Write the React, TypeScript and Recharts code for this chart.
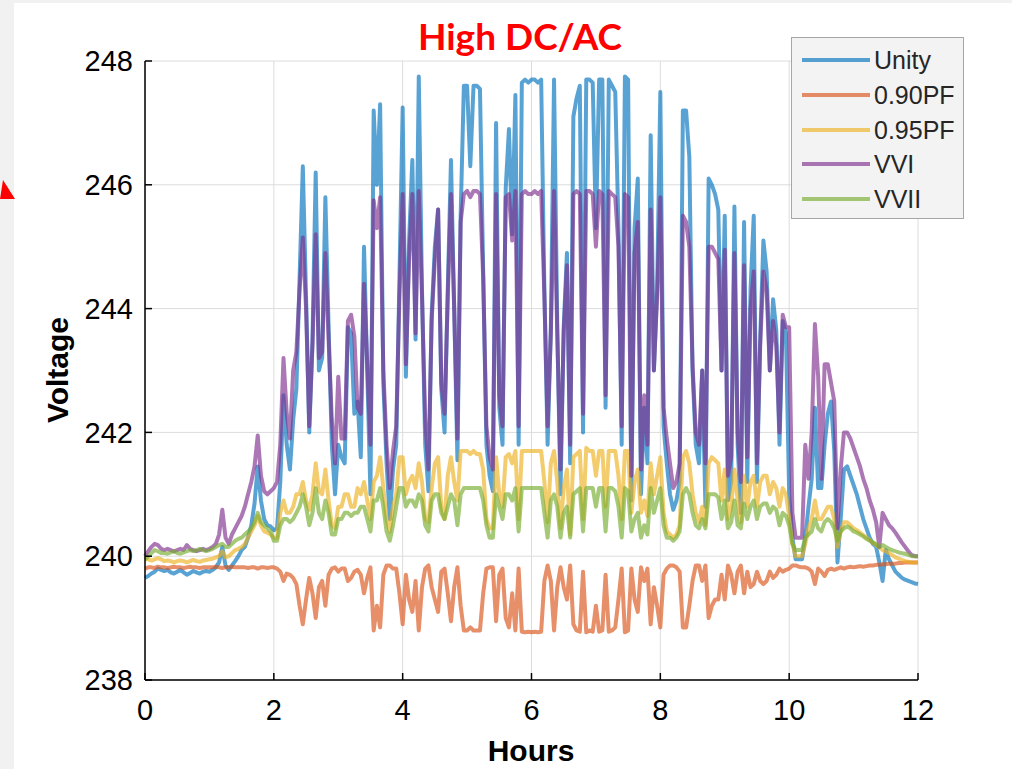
import React from "react";
import { LineChart, Line, XAxis, YAxis, CartesianGrid } from "recharts";

// time axis: one sample every 0.05 h, 0..12 h
const hours = Array.from({ length: 241 }, (_, i) => Math.round(i * 5) / 100);

const xTicks = [0, 2, 4, 6, 8, 10, 12];
const yTicks = [238, 240, 242, 244, 246, 248];

// values, 10 samples (0.5 h) per row
const unity = [
  239.65, 239.68, 239.72, 239.75, 239.8, 239.78, 239.76, 239.78, 239.74, 239.72,
  239.75, 239.78, 239.74, 239.7, 239.73, 239.76, 239.74, 239.72, 239.75, 239.76,
  239.75, 239.78, 239.82, 239.9, 240.15, 239.85, 239.78, 239.85, 239.92, 240.0,
  240.1, 240.15, 240.3, 240.5, 240.85, 241.45, 240.9, 240.6, 240.5, 240.48,
  240.42, 240.45, 241.2, 242.6, 241.8, 241.4, 242.2, 242.7, 244.5, 246.3,
  244.2, 242.0, 243.5, 246.2, 243.0, 243.2, 245.8, 243.7, 241.8, 241.0,
  241.8, 241.6, 241.5, 243.7, 243.6, 242.3, 242.5, 241.6, 245.0, 243.0,
  241.0, 247.2, 246.0, 247.3, 242.8, 241.5, 240.6, 241.4, 241.8, 244.5,
  247.25, 242.9, 245.1, 246.4, 243.5, 247.75, 244.3, 241.8, 241.05, 243.9,
  245.0, 245.6, 242.7, 242.0, 244.3, 246.4, 244.0, 241.55, 245.5, 247.6,
  247.6, 246.3, 247.6, 247.6, 247.55, 244.6, 241.8, 241.3, 241.05, 247.0,
  242.4, 241.8, 245.95, 246.9, 245.2, 247.45, 241.8, 247.65, 247.7, 247.65,
  247.7, 247.7, 247.65, 247.7, 244.3, 241.8, 243.65, 247.7, 243.7, 241.0,
  243.7, 244.9, 241.5, 247.1, 247.4, 247.6, 242.0, 247.7, 247.7, 247.65,
  245.3, 247.7, 247.7, 242.4, 247.7, 247.6, 247.5, 245.3, 241.8, 247.75,
  247.7, 240.9, 245.3, 246.1, 241.0, 242.4, 241.5, 246.8, 243.0, 244.3,
  247.5, 242.1, 241.5, 241.0, 240.75, 240.9, 241.2, 247.2, 247.2, 246.45,
  243.0, 241.8, 241.5, 243.0, 240.8, 246.1, 246.0, 245.85, 245.6, 243.0,
  245.5, 240.9, 241.2, 245.65, 241.8, 240.7, 245.4, 241.2, 244.3, 245.5,
  241.2, 243.5, 245.1, 244.6, 243.0, 244.15, 243.65, 241.8, 243.8, 243.6,
  241.0, 240.3, 239.95, 239.95, 239.95, 240.3, 240.8, 241.25, 242.4, 241.1,
  241.1, 241.8, 242.3, 242.5, 241.7, 239.9, 240.6, 241.4, 241.45, 241.3,
  241.15, 241.0, 240.8, 240.6, 240.45, 240.3, 240.2, 240.15, 239.9, 239.6,
  240.1, 239.95, 239.85, 239.75, 239.7, 239.65, 239.62, 239.6, 239.58, 239.56,
  239.55,
];

const pf090 = [
  239.8, 239.82, 239.82, 239.81, 239.83, 239.82, 239.82, 239.81, 239.82, 239.83,
  239.82, 239.82, 239.81, 239.82, 239.83, 239.82, 239.82, 239.81, 239.82, 239.82,
  239.82, 239.82, 239.83, 239.82, 239.81, 239.82, 239.82, 239.83, 239.82, 239.82,
  239.82, 239.82, 239.81, 239.82, 239.82, 239.8, 239.82, 239.82, 239.81, 239.82,
  239.82, 239.8, 239.75, 239.6, 239.72, 239.7, 239.65, 239.55, 239.2, 238.9,
  239.3, 239.65, 239.4, 239.0, 239.5, 239.6, 239.2, 239.7, 239.8, 239.82,
  239.75, 239.8, 239.8, 239.6, 239.65, 239.75, 239.78, 239.7, 239.4, 239.65,
  239.82, 238.8, 239.2, 238.85, 239.7, 239.85, 239.85, 239.8, 239.8, 239.4,
  238.9, 239.7, 239.3, 239.1, 239.6, 238.8, 239.5, 239.8, 239.85, 239.5,
  239.3, 239.1, 239.75, 239.8, 239.4, 238.95, 239.5, 239.82, 239.2, 238.8,
  238.8, 238.85, 238.8, 238.8, 238.8, 239.4, 239.8, 239.82, 239.82, 238.95,
  239.7, 239.8, 239.0, 238.85, 239.4, 238.8, 239.8, 238.78, 238.77, 238.78,
  238.77, 238.78, 238.77, 238.78, 239.6, 239.85, 239.6, 238.8, 239.5, 239.82,
  239.5, 239.3, 239.85, 238.9, 238.8, 238.78, 239.75, 238.77, 238.8, 238.78,
  239.2, 238.78, 238.8, 239.7, 238.78, 238.8, 238.85, 239.3, 239.8, 238.77,
  238.8, 239.8, 239.3, 239.1, 239.82, 239.6, 239.8, 238.9, 239.5, 239.2,
  238.85, 239.7, 239.8, 239.85, 239.85, 239.82, 239.75, 238.85, 238.85, 239.2,
  239.6, 239.85, 239.85, 239.6, 239.85, 239.0, 239.2, 239.3, 239.3, 239.7,
  239.3, 239.85, 239.7, 239.4, 239.75, 239.85, 239.4, 239.75, 239.5, 239.55,
  239.75, 239.6, 239.55, 239.6, 239.75, 239.65, 239.7, 239.8, 239.75, 239.78,
  239.8, 239.85, 239.85, 239.83, 239.82, 239.82, 239.8, 239.75, 239.55, 239.8,
  239.75, 239.68, 239.78, 239.8, 239.78, 239.8, 239.82, 239.8, 239.82, 239.83,
  239.82, 239.83, 239.84, 239.83, 239.84, 239.85, 239.85, 239.86, 239.86, 239.87,
  239.87, 239.88, 239.88, 239.88, 239.89, 239.89, 239.9, 239.9, 239.9, 239.9,
  239.9,
];

const pf095 = [
  239.95, 239.95, 239.93, 239.95, 239.97, 239.95, 239.92, 239.93, 239.92, 239.9,
  239.92, 239.93, 239.92, 239.9, 239.92, 239.94, 239.92, 239.91, 239.93, 239.94,
  239.95, 239.96, 239.98, 240.0, 240.08, 239.98, 240.0, 240.05, 240.1, 240.12,
  240.15, 240.2, 240.3, 240.4, 240.5, 240.65, 240.5, 240.4, 240.38, 240.35,
  240.3, 240.3, 240.7, 240.9, 240.7, 240.7, 240.8, 241.0, 241.0, 241.2,
  240.9, 240.75, 241.0, 241.5, 241.05, 241.0, 241.4, 240.9, 240.5, 240.45,
  240.8, 240.8, 241.0, 241.0, 240.8, 240.8, 241.1, 241.0, 241.2, 240.9,
  240.6, 241.2, 241.3, 241.6, 241.1, 240.6, 240.4, 240.8, 241.0, 241.6,
  241.6, 241.0, 241.2, 241.3, 241.1, 241.5, 241.2, 240.6, 240.55, 241.1,
  241.5, 241.6, 240.8, 240.6, 241.3, 241.6, 241.2, 240.9, 241.7, 241.7,
  241.7, 241.65, 241.7, 241.65, 241.65, 241.4, 240.6, 240.45, 240.45, 241.6,
  241.0, 240.8, 241.6, 241.65, 241.5, 241.7, 240.6, 241.7, 241.7, 241.7,
  241.7, 241.7, 241.7, 241.7, 241.2, 240.55, 241.5, 241.7, 241.2, 240.45,
  241.1, 241.4, 240.35, 241.6, 241.65, 241.7, 240.6, 241.75, 241.7, 241.7,
  241.3, 241.7, 241.7, 240.8, 241.7, 241.7, 241.7, 241.3, 240.6, 241.7,
  241.7, 240.7, 241.2, 241.4, 240.7, 240.9, 240.65, 241.5, 241.0, 241.3,
  241.6, 240.7, 240.4, 240.35, 240.3, 240.35, 240.5, 241.6, 241.7, 241.5,
  241.0, 240.7, 240.55, 240.8, 240.5, 241.5, 241.6, 241.55, 241.5, 240.9,
  241.4, 240.6, 240.8, 241.4, 240.9, 240.55, 241.3, 240.8, 241.2, 241.3,
  240.8, 241.2, 241.3, 241.3, 241.0, 241.2, 241.1, 240.8, 241.1, 241.0,
  240.65, 240.2, 240.0, 240.0, 240.0, 240.2, 240.45, 240.6, 240.9, 240.6,
  240.6, 240.7, 240.8, 240.8, 240.6, 240.15, 240.4, 240.55, 240.55, 240.5,
  240.45, 240.42, 240.38, 240.34, 240.3, 240.26, 240.22, 240.18, 240.14, 240.1,
  240.08, 240.05, 240.02, 239.98, 239.96, 239.94, 239.92, 239.91, 239.9, 239.9,
  239.9,
];

const vvi = [
  240.0, 240.08, 240.15, 240.2, 240.18, 240.12, 240.1, 240.12, 240.1, 240.08,
  240.1, 240.12, 240.1, 240.18, 240.12, 240.1, 240.08, 240.1, 240.12, 240.1,
  240.12, 240.15, 240.2, 240.35, 240.75, 240.3, 240.2, 240.35, 240.45, 240.55,
  240.65, 240.8, 241.0, 241.2, 241.45, 241.95, 241.3, 241.05, 241.0, 241.05,
  241.1, 241.2, 241.8, 243.2, 242.3, 241.9, 243.0, 243.3, 244.3, 245.15,
  244.0, 242.1, 243.4, 245.2, 243.2, 243.3, 244.9, 243.5, 242.2, 241.5,
  242.9, 241.9, 241.9, 243.8, 243.9, 243.55, 242.4, 242.3, 244.4, 243.1,
  241.8, 245.75, 245.3, 245.8, 243.0, 241.8, 241.1, 241.7, 242.1, 244.2,
  245.85, 243.1, 244.8, 245.85, 243.6, 245.9, 244.2, 242.2, 241.4, 243.8,
  244.8, 245.6, 242.8, 242.3, 244.2, 245.85, 244.0, 241.9, 245.4, 245.85,
  245.9, 245.8, 245.9, 245.9, 245.85, 244.5, 242.1, 241.6, 241.4, 245.85,
  242.6, 242.1, 245.8, 245.85, 245.1, 245.9, 242.1, 245.85, 245.9, 245.85,
  245.85, 245.9, 245.85, 245.9, 244.2, 242.1, 243.6, 245.9, 243.6, 241.4,
  243.6, 244.7, 241.8, 245.85, 245.9, 245.85, 242.3, 245.9, 245.9, 245.85,
  245.0, 245.9, 245.85, 242.6, 245.9, 245.85, 245.8, 245.0, 242.1, 245.85,
  245.8, 241.3, 244.9, 245.4, 241.4, 242.6, 241.8, 245.6, 243.0, 244.2,
  245.8, 242.4, 241.9, 241.5, 241.1, 241.2, 241.5, 245.5, 245.4, 245.0,
  243.1, 242.0, 241.8, 243.0, 241.5, 245.0, 245.0, 244.9, 244.8, 243.0,
  244.95, 241.3, 241.6, 244.9, 242.0, 241.2, 244.7, 241.6, 244.0, 244.6,
  241.5, 243.4, 244.6, 244.3, 243.0, 243.8, 243.4, 242.0, 243.9, 243.7,
  243.7, 240.7, 240.3, 240.3, 240.3, 241.8, 241.25, 242.0, 243.75, 242.9,
  241.25, 243.1, 243.1, 242.8, 242.5, 240.45, 241.4, 242.0, 242.0, 241.9,
  241.75, 241.6, 241.45, 241.25, 241.1, 240.9, 240.75, 240.55, 240.15, 240.7,
  240.6, 240.5, 240.45, 240.38, 240.3, 240.22, 240.15, 240.08, 240.02, 240.0,
  240.0,
];

const vvii = [
  239.95, 240.0, 240.05, 240.1, 240.08, 240.05, 240.05, 240.04, 240.06, 240.08,
  240.05, 240.04, 240.06, 240.08, 240.1, 240.08, 240.1, 240.12, 240.1, 240.08,
  240.1, 240.12, 240.15, 240.18, 240.2, 240.15, 240.15, 240.2, 240.25, 240.28,
  240.3, 240.35, 240.4, 240.45, 240.55, 240.7, 240.55, 240.5, 240.45, 240.4,
  240.25, 240.25, 240.5, 240.6, 240.6, 240.55, 240.6, 240.7, 240.8, 241.0,
  240.8, 240.5, 240.7, 241.1, 240.7, 240.6, 240.9, 240.7, 240.35, 240.35,
  240.6, 240.6, 240.7, 240.7, 240.65, 240.7, 240.7, 240.8, 240.8, 240.6,
  240.4, 240.9, 240.9, 241.1, 240.8, 240.4, 240.25, 240.5, 240.8, 241.1,
  241.1, 240.8, 240.9, 240.9, 240.8, 241.0, 240.9, 240.5, 240.4, 240.9,
  241.0, 241.0, 240.7, 240.6, 240.8, 241.0, 240.9, 240.5, 241.0, 241.1,
  241.1, 241.1, 241.1, 241.1, 241.1, 240.9, 240.5, 240.3, 240.3, 241.0,
  240.8, 240.6, 241.0, 241.0, 240.9, 241.1, 240.4, 241.1, 241.1, 241.1,
  241.1, 241.1, 241.1, 241.1, 240.7, 240.3, 240.9, 241.0, 240.8, 240.3,
  240.7, 240.8, 240.3, 241.0, 241.05, 241.1, 240.4, 241.1, 241.1, 241.1,
  240.8, 241.1, 241.1, 240.4, 241.1, 241.1, 241.05, 240.8, 240.3, 241.1,
  241.05, 240.4, 240.6, 240.7, 240.3, 240.5, 240.35, 241.1, 240.7, 240.9,
  241.1, 240.5, 240.3, 240.3, 240.25, 240.3, 240.4, 241.0, 241.1, 241.0,
  240.7, 240.5, 240.45, 240.6, 240.45, 241.0, 241.0, 241.0, 240.95, 240.6,
  240.9, 240.45, 240.55, 240.9, 240.5, 240.45, 240.85, 240.6, 240.8, 240.9,
  240.6, 240.8, 240.85, 240.85, 240.7, 240.8, 240.75, 240.5, 240.7, 240.65,
  240.5, 240.2, 240.1, 240.1, 240.1, 240.3, 240.35, 240.4, 240.6, 240.45,
  240.4, 240.55, 240.6, 240.55, 240.45, 240.25, 240.4, 240.45, 240.48, 240.45,
  240.4, 240.38, 240.35, 240.32, 240.28, 240.25, 240.22, 240.2, 240.15, 240.18,
  240.15, 240.12, 240.1, 240.08, 240.06, 240.05, 240.04, 240.02, 240.0, 240.0,
  240.0,
];

const series = [
  { key: "unity", name: "Unity", color: "#0072BD" },
  { key: "pf090", name: "0.90PF", color: "#D95319" },
  { key: "pf095", name: "0.95PF", color: "#EDB120" },
  { key: "vvi", name: "VVI", color: "#7E2F8E" },
  { key: "vvii", name: "VVII", color: "#77AC30" },
];

const data = hours.map((h, i) => ({
  hour: h,
  unity: unity[i],
  pf090: pf090[i],
  pf095: pf095[i],
  vvi: vvi[i],
  vvii: vvii[i],
}));

const FONT = "'Liberation Sans', Arial, Helvetica, sans-serif";

function LegendBox() {
  return (
    <div
      style={{
        position: "absolute",
        left: 791,
        top: 37,
        width: 173,
        height: 182,
        background: "#f3f3f3",
        border: "1px solid #a6a6a6",
        boxSizing: "border-box",
        fontFamily: FONT,
        fontSize: 25,
        color: "#262626",
        paddingTop: 5,
      }}
    >
      {series.map((s) => (
        <div key={s.key} style={{ display: "flex", alignItems: "center", height: 34.7 }}>
          <div
            style={{
              marginLeft: 10,
              width: 68,
              height: 4,
              background: s.color,
              opacity: 0.65,
            }}
          />
          <span style={{ marginLeft: 4, lineHeight: "28px" }}>{s.name}</span>
        </div>
      ))}
    </div>
  );
}

export default function App() {
  return (
    <div style={{ position: "absolute", left: 0, top: 0, width: 1012, height: 769, background: "#fff", overflow: "hidden" }}>
      {/* slide edge */}
      <div style={{ position: "absolute", left: 0, top: 0, width: 14, height: 769, background: "#f1f1f1" }} />
      <div style={{ position: "absolute", left: 0, top: 0, width: 1012, height: 3, background: "#f1f1f1" }} />
      <svg style={{ position: "absolute", left: 0, top: 0 }} width={20} height={220}>
        <polygon points="0,199 15,199 3,180" fill="#ff0000" />
      </svg>

      <div
        style={{
          position: "absolute",
          left: 0,
          width: 1040,
          top: 13,
          textAlign: "center",
          fontFamily: "Lato, 'Open Sans', sans-serif",
          fontWeight: 700,
          fontSize: 37,
          color: "#ff0000",
        }}
      >
        High DC/AC
      </div>

      <div
        style={{
          position: "absolute",
          left: 58,
          top: 370,
          transform: "translate(-50%, -50%) rotate(-90deg)",
          fontFamily: FONT,
          fontWeight: 700,
          fontSize: 30,
          color: "#000",
          whiteSpace: "nowrap",
        }}
      >
        Voltage
      </div>
      <div
        style={{
          position: "absolute",
          left: 531,
          top: 751,
          transform: "translate(-50%, -50%)",
          fontFamily: FONT,
          fontWeight: 700,
          fontSize: 30,
          color: "#000",
        }}
      >
        Hours
      </div>

      <div style={{ position: "absolute", left: 0, top: 0 }}>
        <LineChart
          width={1012}
          height={769}
          data={data}
          margin={{ top: 61, right: 94, left: 85, bottom: 49 }}
        >
          <CartesianGrid stroke="#dcdcdc" strokeWidth={1} />
          <XAxis
            dataKey="hour"
            type="number"
            domain={[0, 12]}
            ticks={xTicks}
            height={40}
            axisLine={{ stroke: "#000", strokeWidth: 1.5 }}
            tickLine={{ stroke: "#000", strokeWidth: 1.5 }}
            tickSize={-7}
            tickMargin={26}
            tick={{ fill: "#000", fontSize: 29, fontFamily: FONT }}
            interval={0}
          />
          <YAxis
            type="number"
            domain={[238, 248]}
            ticks={yTicks}
            width={60}
            allowDataOverflow
            axisLine={{ stroke: "#000", strokeWidth: 1.5 }}
            tickLine={{ stroke: "#000", strokeWidth: 1.5 }}
            tickSize={-7}
            tickMargin={19}
            tick={{ fill: "#000", fontSize: 29, fontFamily: FONT }}
            interval={0}
          />
          {series.map((s) => (
            <Line
              key={s.key}
              type="linear"
              dataKey={s.key}
              name={s.name}
              stroke={s.color}
              strokeOpacity={0.65}
              strokeWidth={4}
              strokeLinejoin="round"
              dot={false}
              activeDot={false}
              isAnimationActive={false}
            />
          ))}
        </LineChart>
      </div>
      <LegendBox />
    </div>
  );
}
